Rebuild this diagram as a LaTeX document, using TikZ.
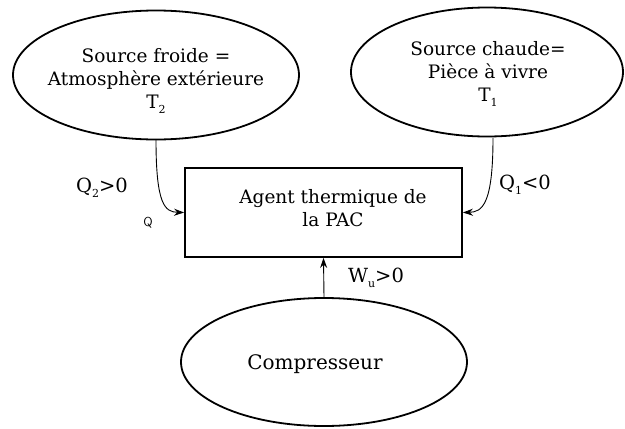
\documentclass[tikz,border=0pt]{standalone}
\usepackage{fontspec}
\setmainfont{DejaVu Serif}
\usetikzlibrary{shapes.geometric,arrows.meta}
\newcommand{\sub}[1]{\raisebox{-0.5ex}{\fontsize{11}{11}\selectfont #1}}
\begin{document}
\begin{tikzpicture}[x=1pt,y=-1pt,
  oval/.style={ellipse,draw,line width=1.8pt,inner sep=0pt},
  agent/.style={rectangle,draw,line width=1.8pt,inner sep=0pt},
  txt/.style={inner sep=0pt,align=center,font=\fontsize{18.5}{23}\selectfont},
  lab/.style={inner sep=0pt,font=\fontsize{19.5}{22}\selectfont},
  flow/.style={line width=0.9pt,-{Stealth[length=10pt,width=7pt]}}]
\useasboundingbox (0,0) rectangle (625,429);
\node[oval,minimum width=286pt,minimum height=129pt] (froide) at (156,75) {};
\node[txt] (froidetext) at (156,81) {Source froide =\\Atmosphère extérieure\\T\sub{2}};
\node[oval,minimum width=272pt,minimum height=129pt] (chaude) at (487,72) {};
\node[txt] (chaudetext) at (488,74) {Source chaude=\\Pièce à vivre\\T\sub{1}};
\node[agent,minimum width=277pt,minimum height=89pt] (pac) at (323.5,212.5) {};
\node[txt] (pactext) at (333,208) {Agent thermique de\\la PAC};
\node[oval,minimum width=286pt,minimum height=128pt] (comp) at (324,362) {};
\node[txt,font=\fontsize{20}{23}\selectfont] (comptext) at (315,364) {Compresseur};
\coordinate (fb) at (156,140);
\coordinate (cb) at (493,138);
\draw[flow] (fb) .. controls (156,205) and (165,212) .. (pac.west);
\draw[flow] (cb) .. controls (493,205) and (482,212) .. (pac.east);
\draw[flow] (comp.north) -- (pac.south);
\node[lab] (q2) at (102,188) {Q\sub{2}>0};
\node[lab] (q1) at (525,185) {Q\sub{1}<0};
\node[lab] (wu) at (376,278) {W\sub{u}>0};
\node[inner sep=0pt,font=\sffamily\fontsize{13}{13}\selectfont] (q) at (148,223) {Q};
\end{tikzpicture}
\end{document}
